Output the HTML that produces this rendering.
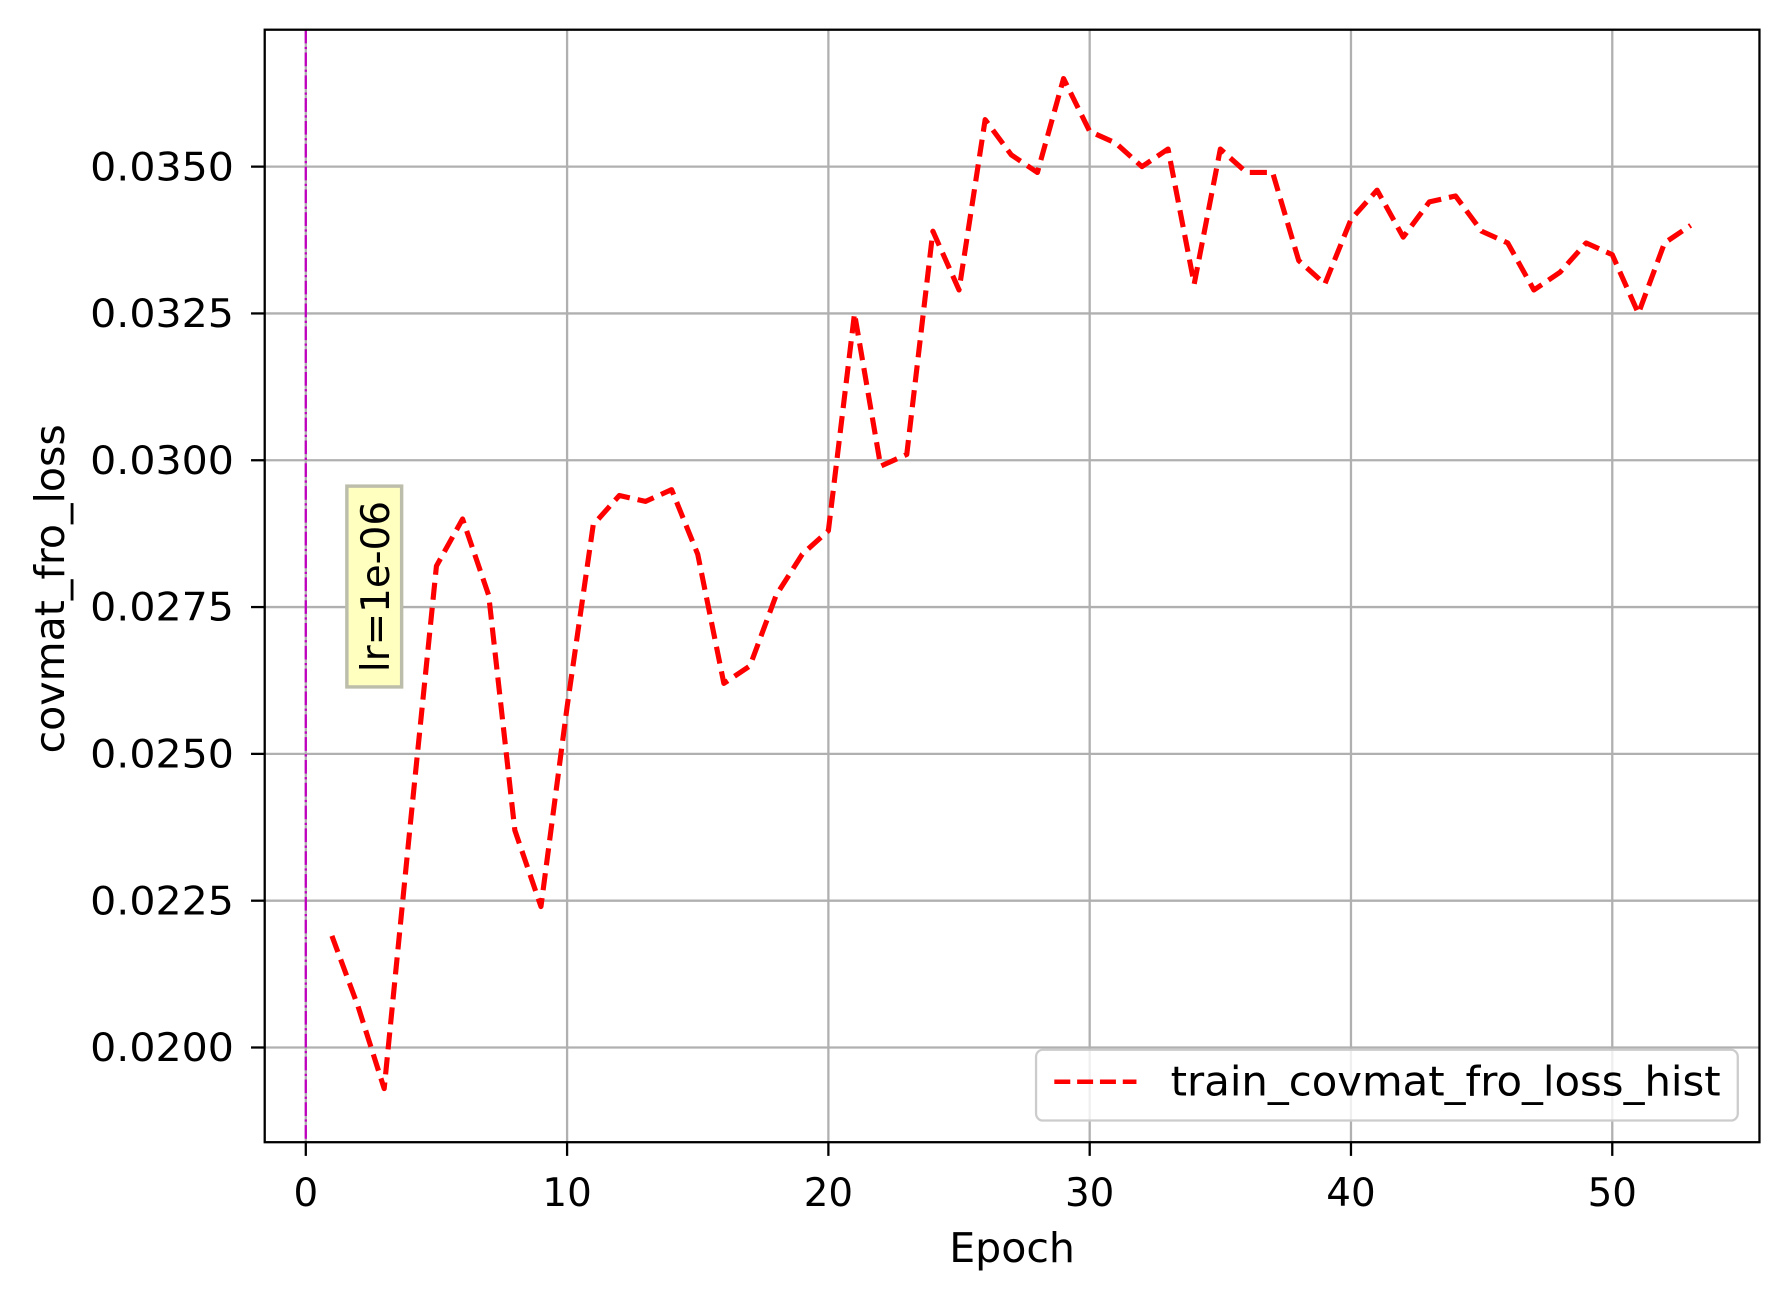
<!DOCTYPE html>
<html><head><meta charset="utf-8"><style>
html,body{margin:0;padding:0;background:#fff;}
svg{display:block;font-family:"DejaVu Sans","Liberation Sans",sans-serif;}
</style></head><body>
<svg id="chart" width="1780" height="1294" viewBox="0 0 1560 1134" xmlns="http://www.w3.org/2000/svg">
<rect width="1560" height="1134" fill="#fff"/>
<g id="grid"></g>
<g id="ticks"></g>
<line x1="268" y1="26" x2="268" y2="1001" stroke="#bf00bf" stroke-width="2" stroke-dasharray="12,3,2,3"/>
<g id="series"></g>
<rect x="304" y="426" width="48" height="176" fill="#ffffc0" stroke="#bdbdab" stroke-width="3"/>
<text transform="translate(341,514) rotate(-90)" text-anchor="middle" font-size="34">lr=1e-06</text>
<rect x="232" y="26" width="1310" height="975" fill="none" stroke="#000" stroke-width="2"/>
<text x="887" y="1106" text-anchor="middle" font-size="36">Epoch</text>
<text transform="translate(56,516) rotate(-90)" text-anchor="middle" font-size="36">covmat_fro_loss</text>
<g>
<rect x="908" y="920" width="615" height="62" rx="6" fill="#fff" fill-opacity="0.8" stroke="#ccc" stroke-width="2"/>
<line x1="924" y1="948" x2="996" y2="948" stroke="red" stroke-width="4" stroke-dasharray="14,6"/>
<text x="1026" y="960" font-size="36" textLength="482" lengthAdjust="spacingAndGlyphs">train_covmat_fro_loss_hist</text>
</g>
</svg>
<script>
const epochs = [1,2,3,4,5,6,7,8,9,10,11,12,13,14,15,16,17,18,19,20,21,22,23,24,25,26,27,28,29,30,31,32,33,34,35,36,37,38,39,40,41,42,43,44,45,46,47,48,49,50,51,52,53];
const lossValues = [0.0219,0.0207,0.0193,0.0238,0.0282,0.0290,0.0277,0.0237,0.0224,0.0258,0.0289,0.0294,0.0293,0.0295,0.0284,0.0262,0.0265,0.0277,0.0284,0.0288,0.0325,0.0299,0.0301,0.0339,0.0329,0.0358,0.0352,0.0349,0.0365,0.0356,0.0354,0.0350,0.0353,0.0330,0.0353,0.0349,0.0349,0.0334,0.0330,0.0341,0.0346,0.0338,0.0344,0.0345,0.0339,0.0337,0.0329,0.0332,0.0337,0.0335,0.0325,0.0337,0.0340];
const xTicks = [0,10,20,30,40,50];
const yTicks = [0.0200,0.0225,0.0250,0.0275,0.0300,0.0325,0.0350];
const yTickLabels = ["0.0200","0.0225","0.0250","0.0275","0.0300","0.0325","0.0350"];

const NS = "http://www.w3.org/2000/svg";
const L=232,R=1542,T=26,B=1001;
function xs(v){return 268 + (v-0)*(1413-268)/50;}
function ys(v){return 918 + (v-0.0200)*(146-918)/0.0150;}
function mk(tag,attrs,parent){const e=document.createElementNS(NS,tag);for(const k in attrs)e.setAttribute(k,attrs[k]);parent.appendChild(e);return e;}
const grid=document.getElementById('grid'), ticks=document.getElementById('ticks'), series=document.getElementById('series');
xTicks.forEach(t=>{
  const x=xs(t);
  const g=mk('line',{x1:x,y1:T,x2:x,y2:B,stroke:'#b0b0b0','stroke-width':2},grid);
  
  
  mk('line',{x1:x,y1:B,x2:x,y2:B+12,stroke:'#000','stroke-width':2},ticks);
  const tx=mk('text',{x:x,y:B+56,'text-anchor':'middle','font-size':34},ticks);
  tx.textContent=String(t);
  
  
});
yTicks.forEach((t,i)=>{
  const y=ys(t);
  const g=mk('line',{x1:L,y1:y,x2:R,y2:y,stroke:'#b0b0b0','stroke-width':2},grid);
  
  
  mk('line',{x1:L-12,y1:y,x2:L,y2:y,stroke:'#000','stroke-width':2},ticks);
  const tx=mk('text',{x:L-27,y:y+12,'text-anchor':'end','font-size':34,textLength:126,lengthAdjust:'spacingAndGlyphs'},ticks);
  tx.textContent=yTickLabels[i];
  
  
});
const pts=epochs.map((e,i)=>xs(e).toFixed(1)+','+ys(lossValues[i]).toFixed(1)).join(' ');
const pl=mk('polyline',{points:pts,fill:'none',stroke:'red','stroke-width':4.5,'stroke-dasharray':'15,7','stroke-linejoin':'round'},series);


</script>
</body></html>
